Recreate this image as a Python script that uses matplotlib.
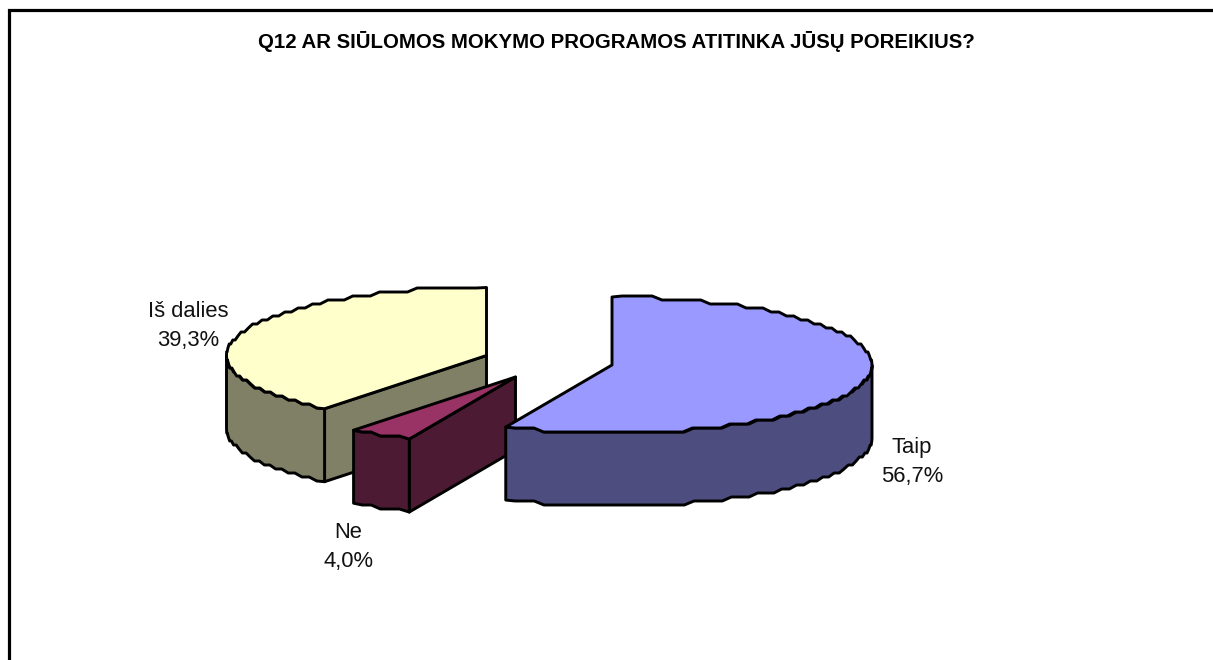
import numpy as np
import matplotlib
matplotlib.use("Agg")
import matplotlib.pyplot as plt
from matplotlib.patches import Polygon, Rectangle

plt.rcParams['font.family'] = ['Liberation Sans', 'DejaVu Sans']

title = "Q12 AR SIŪLOMOS MOKYMO PROGRAMOS ATITINKA JŪSŲ POREIKIUS?"
categories = ["Taip", "Ne", "Iš dalies"]
values = [56.7, 4.0, 39.3]
top_colors = ["#9999FF", "#993366", "#FFFFCC"]
side_colors = ["#4D4D80", "#4D1A33", "#808066"]

# layout
W, H = 1213, 660
RX, RY, DEPTH = 260, 68, 73
apexes = {"Taip": (612, 365), "Ne": (515.5, 377), "Iš dalies": (486.5, 355.5)}
label_pos = {"Taip": (912, 462), "Ne": (348, 547), "Iš dalies": (188, 326)}
draw_order = ["Iš dalies", "Ne", "Taip"]
LW = 2.1

fig = plt.figure(figsize=(W / 100, H / 100), dpi=100)
ax = fig.add_axes([0, 0, 1, 1])
ax.set_xlim(0, W)
ax.set_ylim(H, 0)
ax.axis("off")

ax.add_patch(Rectangle((8.5, 9.5), W + 50, H + 50, fc="white", ec="black", lw=2.3))


def arc(apex, a0, a1):
    """Rim points between two clockwise-from-top angles, with the stepped
    outline of a low-resolution rendering."""
    n = max(2, int(abs(a1 - a0) / 2.2) + 1)
    t = np.radians(np.linspace(a0, a1, n))
    x = apex[0] + RX * np.sin(t)
    y = apex[1] - RY * np.cos(t)
    yq = np.round(y / 4) * 4
    yq[0], yq[-1] = y[0], y[-1]
    return np.column_stack([x, yq])


def poly(pts, fc, z):
    ax.add_patch(Polygon(pts, closed=True, fc=fc, ec="black", lw=LW,
                         joinstyle="round", zorder=z))


edges = np.concatenate([[0], np.cumsum(values)]) * 3.6
z = 2
for name in draw_order:
    i = categories.index(name)
    a0, a1 = edges[i], edges[i + 1]
    apex = np.array(apexes[name], float)
    drop = np.array([0, DEPTH])

    # the straight cut face turned towards the viewer
    if name in ("Iš dalies", "Ne"):
        outer = arc(apex, a0, a0)[0]
        poly([apex, outer, outer + drop, apex + drop], side_colors[i], z)

    # rim wall: only the front half of the ellipse shows
    f0, f1 = max(a0, 90), min(a1, 270)
    if f1 > f0:
        rim = arc(apex, f0, f1)
        poly(np.vstack([rim, (rim + drop)[::-1]]), side_colors[i], z)

    # top surface
    poly(np.vstack([[apex], arc(apex, a0, a1)]), top_colors[i], z + 1)
    z += 2

    lx, ly = label_pos[name]
    ax.text(lx, ly, f"{name}\n{values[i]:.1f}%".replace(".", ","),
            ha="center", va="center", fontsize=15.8, linespacing=1.52,
            color="#111111", zorder=20)

ax.text(616.5, 41, title, ha="center", va="center", fontsize=14.7,
        fontweight="bold", color="black")

fig.savefig("out.png", dpi=100)
